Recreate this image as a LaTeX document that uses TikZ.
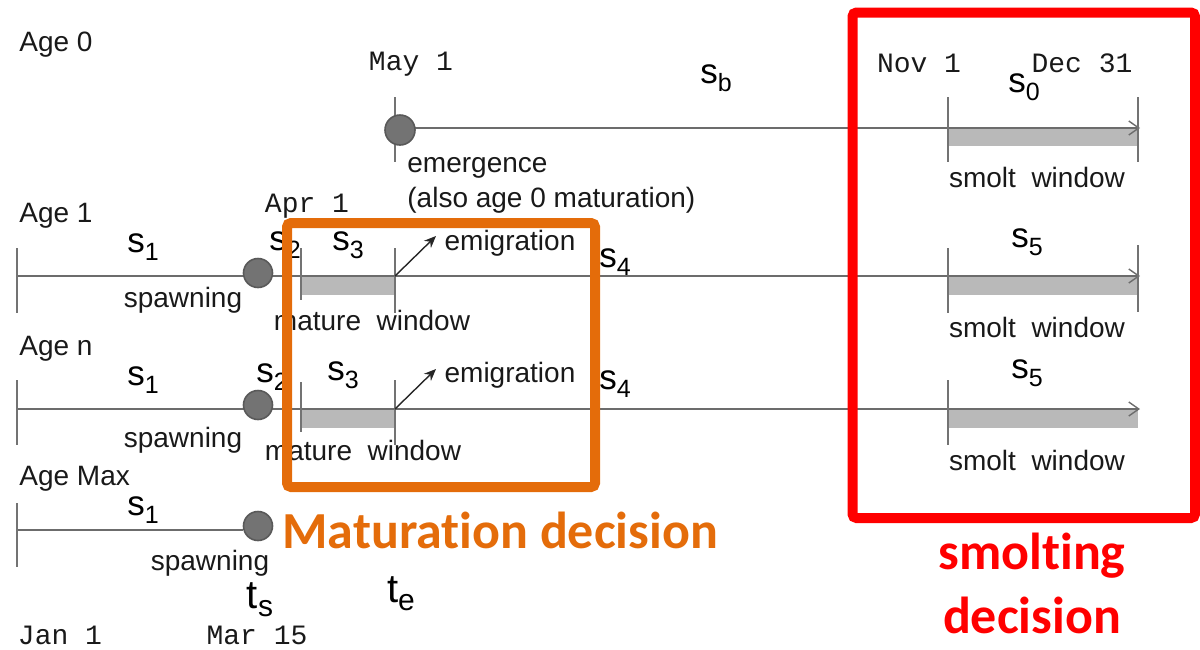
\documentclass[tikz,border=0pt]{standalone}
\usepackage{fontspec}
\setmainfont{Liberation Sans}
\newfontfamily\monofnt{Liberation Mono}
\newfontfamily\calfnt[Ligatures=CommonOff]{Carlito}
\usetikzlibrary{arrows.meta}
\definecolor{boxorange}{RGB}{228,108,10}
\definecolor{txtgray}{RGB}{25,25,25}
\newcommand{\Sv}[1]{{\fontsize{17.5}{17.5}\selectfont s}\raisebox{-4pt}{\fontsize{12.5}{12.5}\selectfont #1}}
\newcommand{\Tv}[1]{{\fontsize{20}{20}\selectfont t}\raisebox{-4pt}{\fontsize{15}{15}\selectfont #1}}
\begin{document}
\begin{tikzpicture}[x=0.5pt,y=-0.5pt,
  txt/.style={font=\fontsize{14}{16}\selectfont, text=txtgray, inner sep=0pt},
  datelbl/.style={font=\monofnt\fontsize{14}{16}\selectfont, text=txtgray, inner sep=0pt},
  slbl/.style={text=black, inner sep=0pt},
  tl/.style={draw=gray!85!black, line width=1pt},
  tlarrow/.style={tl, -{Straight Barb[length=5pt,width=7pt,line width=0.7pt]}},
  tickline/.style={draw=gray!90!black, line width=0.8pt},
  barfill/.style={fill=gray!55, draw=none},
  dot/.style={circle, inner sep=0pt, fill=gray!90!black, draw=black!65, line width=0.8pt},
  emig/.style={draw=black!85, line width=0.7pt, -{Stealth[length=6pt,width=5pt]}},
  decbox/.style={line width=5pt, rounded corners=2pt},
  dectxt/.style={font=\calfnt\bfseries\fontsize{26}{31}\selectfont, inner sep=0pt}
]
\useasboundingbox (0,0) rectangle (1200,649);

% ---------------- Age 0 row ----------------
\coordinate (a0s) at (400,128);
\coordinate (a0e) at (1140,128);
\fill[barfill] (948,128) rectangle (1138,146);
\draw[tlarrow] (a0s) -- (a0e);
\draw[tickline] (395,97) -- (395,162);
\draw[tickline] (948,97) -- (948,162);
\draw[tickline] (1138,97) -- (1138,162);
\node[dot, minimum size=15pt] (em) at (400,130) {};

\node[txt, anchor=west] (age0) at (19,45) {Age 0};
\node[datelbl] (may1) at (411,64) {May 1};
\node[slbl] (sb) at (716,78) {\Sv{b}};
\node[datelbl] (nov1) at (919,63) {Nov 1};
\node[datelbl] (dec31) at (1082,63) {Dec 31};
\node[slbl] (s0) at (1024,87) {\Sv{0}};
\node[txt] (sw0) at (1037,177) {smolt\ \ window};
\node[txt, anchor=west] (emtxt) at (407,168) {emergence};
\node[txt, anchor=west] (emtxt2) at (407,200) {(also age 0 maturation)};

% ---------------- Age 1 row ----------------
\coordinate (a1s) at (17,276);
\coordinate (a1e) at (1140,276);
\fill[barfill] (301,276) rectangle (395,295);
\fill[barfill] (948,276) rectangle (1138,295);
\draw[tlarrow] (a1s) -- (a1e);
\draw[tickline] (17,248) -- (17,313);
\draw[tickline] (301,248) -- (301,300);
\draw[tickline] (395,248) -- (395,313);
\draw[tickline] (948,248) -- (948,313);
\draw[tickline] (1138,245) -- (1138,312);
\node[dot, minimum size=14.5pt] (sp1) at (258,273) {};
\coordinate (m1) at (395,276);
\coordinate (e1) at (436,236);
\draw[emig] (m1) -- (e1);

\node[txt, anchor=west] (age1) at (19,216) {Age 1};
\node[datelbl] (apr1) at (307,206) {Apr 1};
\node[slbl] (s1a) at (143,247) {\Sv{1}};
\node[txt] (spw1) at (183,300) {spawning};
\node[slbl] (s2a) at (285,245) {\Sv{2}};
\node[slbl] (s3a) at (348,245) {\Sv{3}};
\node[txt] (emig1) at (510,243) {emigration};
\node[slbl] (s4a) at (615,262) {\Sv{4}};
\node[txt] (mw1) at (372,320) {mature\ \ window};
\node[slbl] (s5a) at (1027,242) {\Sv{5}};
\node[txt] (sw1) at (1037,327) {smolt\ \ window};

% ---------------- Age n row ----------------
\coordinate (ans) at (17,409);
\coordinate (ane) at (1140,409);
\fill[barfill] (301,409) rectangle (395,428);
\fill[barfill] (948,409) rectangle (1138,428);
\draw[tlarrow] (ans) -- (ane);
\draw[tickline] (17,380) -- (17,445);
\draw[tickline] (301,382) -- (301,432);
\draw[tickline] (395,380) -- (395,445);
\draw[tickline] (948,380) -- (948,445);
\node[dot, minimum size=14.5pt] (spn) at (258,405) {};
\coordinate (mn) at (395,409);
\coordinate (en) at (436,369);
\draw[emig] (mn) -- (en);

\node[txt, anchor=west] (agen) at (19,349) {Age n};
\node[slbl] (s1n) at (143,380) {\Sv{1}};
\node[txt] (spwn) at (183,440) {spawning};
\node[slbl] (s2n) at (272,377) {\Sv{2}};
\node[slbl] (s3n) at (343,375) {\Sv{3}};
\node[txt] (emign) at (510,375) {emigration};
\node[slbl] (s4n) at (615,384) {\Sv{4}};
\node[txt] (mwn) at (363,450) {mature\ \ window};
\node[slbl] (s5n) at (1027,373) {\Sv{5}};
\node[txt] (swn) at (1037,460) {smolt\ \ window};

% ---------------- Age Max row ----------------
\node[dot, minimum size=14.5pt] (spm) at (258,526) {};
\coordinate (ams) at (17,530);
\draw[tl] (ams) -- (spm.west |- ams);
\draw[tickline] (17,503) -- (17,567);

\node[txt, anchor=west] (agem) at (19,479) {Age Max};
\node[slbl] (s1m) at (143,510) {\Sv{1}};
\node[txt] (spwm) at (210,563) {spawning};
\node[slbl] (ts) at (260,600) {\Tv{s}};
\node[slbl] (te) at (401,594) {\Tv{e}};
\node[datelbl] (jan1) at (60,635) {Jan 1};
\node[datelbl] (mar15) at (257,635) {Mar 15};

% ---------------- decision boxes ----------------
\draw[decbox, draw=boxorange] (287,223) rectangle (595,487);
\node[dectxt, text=boxorange, anchor=west] (matdec) at (282,530) {Maturation decision};
\draw[decbox, draw=red] (852.5,12.5) rectangle (1195,518);
\node[dectxt, text=red] (smdec1) at (1032,556) {smolting};
\node[dectxt, text=red] (smdec2) at (1032,615) {decision};
\end{tikzpicture}
\end{document}
